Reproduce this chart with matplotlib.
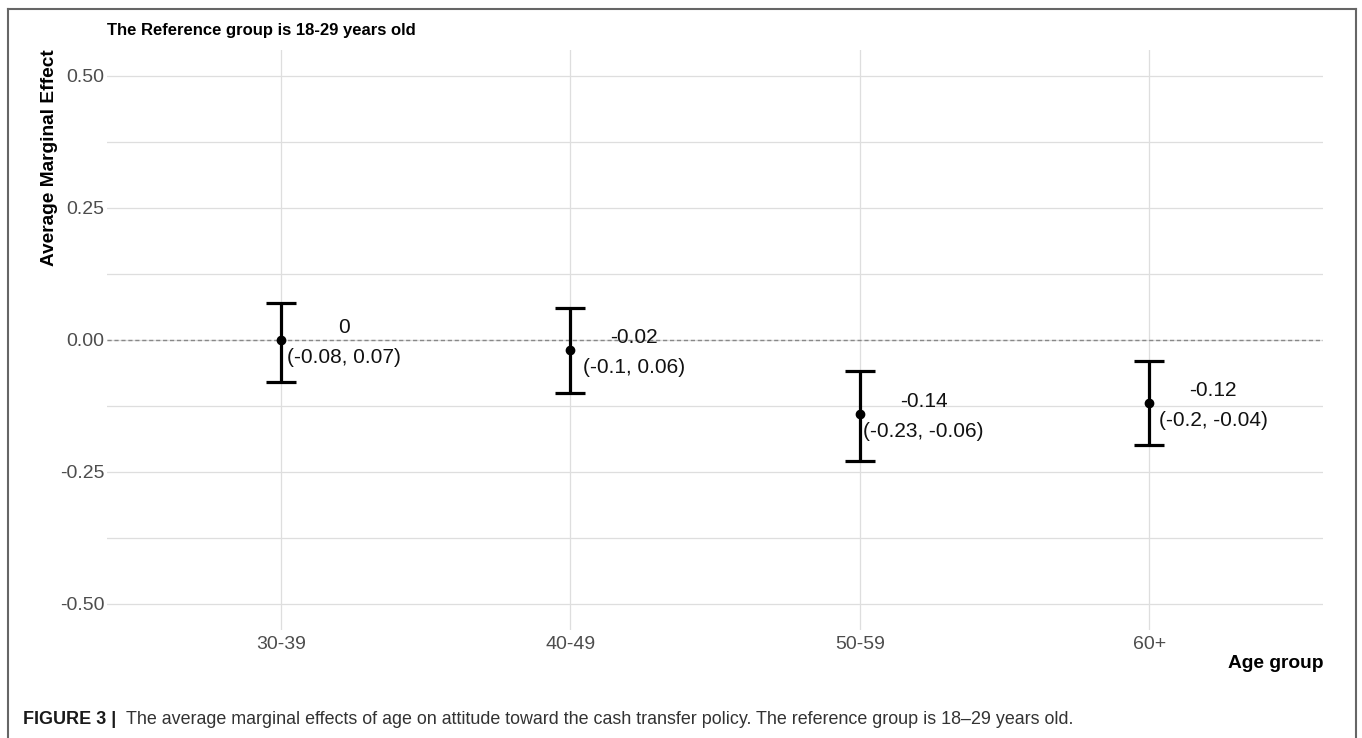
import numpy as np
import matplotlib
matplotlib.use("Agg")
import matplotlib.pyplot as plt
from matplotlib.lines import Line2D

# Average marginal effects by age group (reference: 18-29)
age_groups = ["30-39", "40-49", "50-59", "60+"]
estimate = [0.00, -0.02, -0.14, -0.12]
ci_low = [-0.08, -0.10, -0.23, -0.20]
ci_high = [0.07, 0.06, -0.06, -0.04]
y_ticks = [-0.50, -0.25, 0.00, 0.25, 0.50]

plt.rcParams["font.family"] = ["Liberation Sans", "DejaVu Sans"]
plt.rcParams["axes.unicode_minus"] = False

W, H = 1362, 738
fig = plt.figure(figsize=(W / 100, H / 100), dpi=100)
ax = fig.add_axes([107 / W, 1 - 630 / H, (1323 - 107) / W, (630 - 49.6) / H])

x = np.arange(1, len(age_groups) + 1)
est = np.array(estimate)
lo = np.array(ci_low)
hi = np.array(ci_high)

ax.set_xlim(0.4, 4.6)
ax.set_ylim(-0.55, 0.55)
for s in ax.spines.values():
    s.set_visible(False)

ax.set_xticks(x)
ax.set_xticklabels(age_groups)
ax.set_yticks(y_ticks)
ax.set_yticklabels([f"{v:.2f}" for v in y_ticks])
ax.set_yticks([-0.375, -0.125, 0.125, 0.375], minor=True)
ax.tick_params(axis="both", which="both", length=0, labelsize=14, labelcolor="#4d4d4d")
ax.tick_params(axis="y", pad=2)
ax.tick_params(axis="x", pad=4)
ax.grid(True, which="major", color="#dedede", linewidth=0.9)
ax.grid(True, which="minor", axis="y", color="#dedede", linewidth=0.9)
ax.set_axisbelow(True)

ax.axhline(0, color="#888888", linestyle=(0, (3, 2)), linewidth=1.0, zorder=1)

ax.errorbar(x, est, yerr=[est - lo, hi - est], fmt="o", color="black",
            markersize=6, elinewidth=2.3, capsize=10.5, capthick=2.3, zorder=3)

for xi, e, l, h in zip(x, est, lo, hi):
    ax.annotate(f"{e:g}", (xi + 0.22, e), xytext=(0, 9), textcoords="offset points",
                ha="center", va="center", fontsize=15, color="#111111")
    ax.annotate(f"({l:g}, {h:g})", (xi + 0.22, e), xytext=(0, -12.5), textcoords="offset points",
                ha="center", va="center", fontsize=15, color="#111111")

fig.text(107 / W, 1 - 31 / H, "The Reference group is 18-29 years old",
         fontsize=12, fontweight="bold", ha="left", va="center")
fig.text(50 / W, 1 - 49 / H, "Average Marginal Effect", rotation=90,
         fontsize=13.8, fontweight="bold", ha="center", va="top")
fig.text(1323 / W, 1 - 663 / H, "Age group",
         fontsize=13.8, fontweight="bold", ha="right", va="center")

# caption under the panel
fig.text(23 / W, 1 - 724 / H, "FIGURE 3 |", fontsize=13, fontweight="bold",
         color="#1a1a1a", ha="left", va="baseline")
fig.text(126 / W, 1 - 724 / H,
         "The average marginal effects of age on attitude toward the cash transfer policy. "
         "The reference group is 18\u201329 years old.",
         fontsize=12.9, color="#333333", ha="left", va="baseline")

# outer frame
frame = dict(color="#666666", linewidth=1.5, transform=fig.transFigure)
fig.add_artist(Line2D([7.5 / W, 7.5 / W], [0, 1 - 9 / H], **frame))
fig.add_artist(Line2D([7.5 / W, 1356 / W], [1 - 9 / H, 1 - 9 / H], **frame))
fig.add_artist(Line2D([1356 / W, 1356 / W], [0, 1 - 9 / H], **frame))

fig.savefig("out.png", dpi=100)
